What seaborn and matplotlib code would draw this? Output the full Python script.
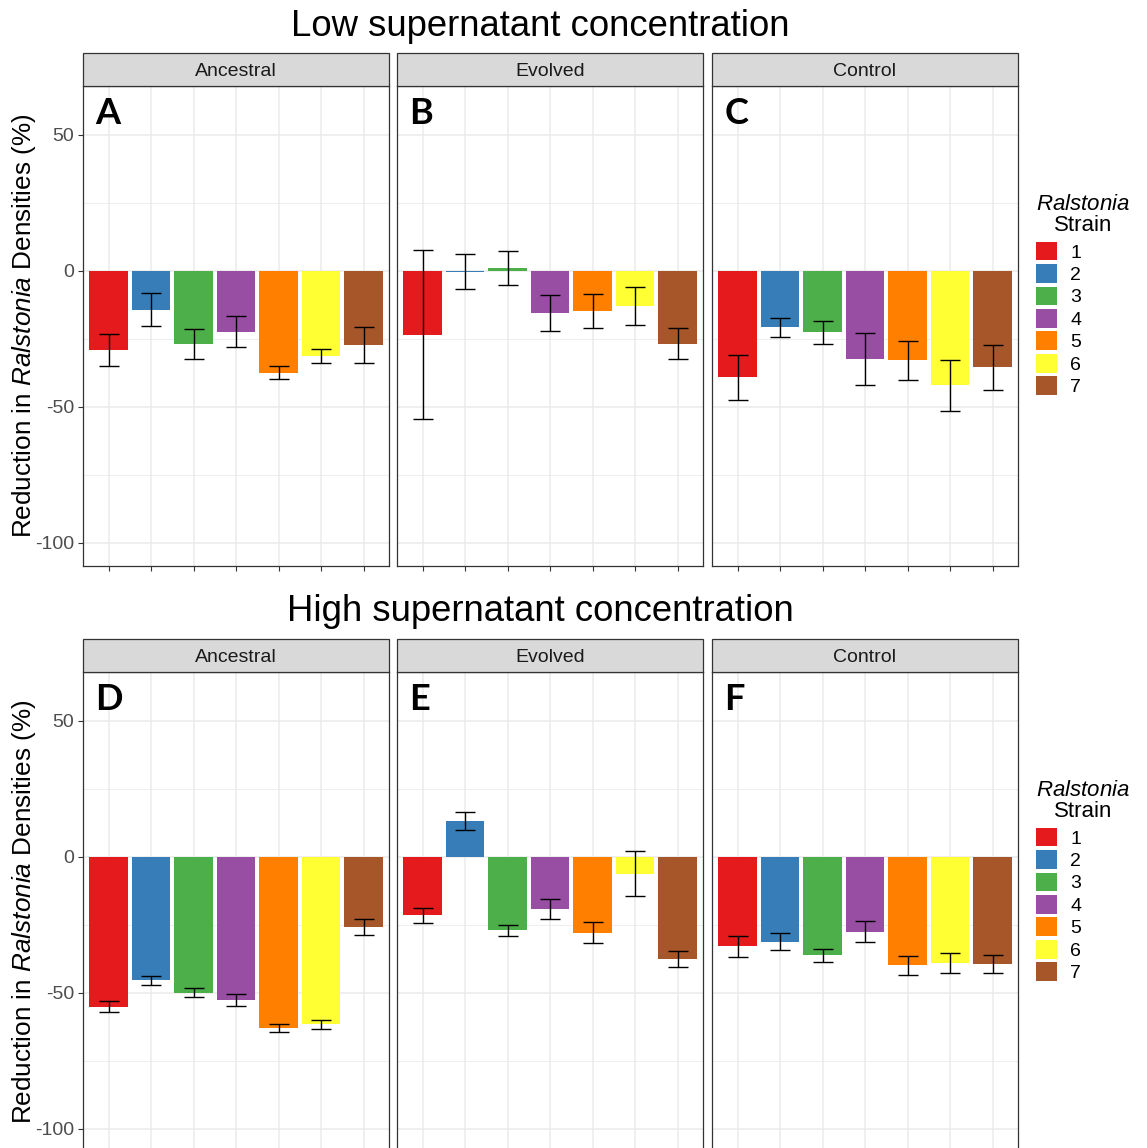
import numpy as np
import pandas as pd
import matplotlib
matplotlib.use("Agg")
import matplotlib.pyplot as plt
from matplotlib.patches import Rectangle, Patch
import seaborn as sns

# ---- data -------------------------------------------------------------
strains = ["1", "2", "3", "4", "5", "6", "7"]
treatments = ["Ancestral", "Evolved", "Control"]
row_titles = ["Low supernatant concentration", "High supernatant concentration"]
panel_letters = [["A", "B", "C"], ["D", "E", "F"]]
strain_colors = ["#E41A1C", "#377EB8", "#4DAF4A", "#984EA3",
                 "#FF7F00", "#FFFF33", "#A65628"]

# low supernatant concentration: mean reduction (%) and standard error
low_ancestral_mean = [-29.1, -14.2, -26.8, -22.4, -37.4, -31.2, -27.1]
low_ancestral_se = [5.95, 6.0, 5.6, 5.65, 2.35, 2.5, 6.65]
low_evolved_mean = [-23.4, -0.3, 1.0, -15.5, -14.6, -12.9, -26.8]
low_evolved_se = [31.0, 6.4, 6.15, 6.7, 6.25, 7.05, 5.65]
low_control_mean = [-39.1, -20.7, -22.6, -32.5, -32.9, -42.1, -35.5]
low_control_se = [8.3, 3.55, 4.35, 9.6, 7.05, 9.35, 8.15]

# high supernatant concentration
high_ancestral_mean = [-55.0, -45.4, -50.0, -52.5, -62.8, -61.5, -25.7]
high_ancestral_se = [2.0, 1.6, 1.65, 2.2, 1.4, 1.65, 2.85]
high_evolved_mean = [-21.5, 13.2, -27.0, -19.2, -27.8, -6.1, -37.5]
high_evolved_se = [2.9, 3.15, 2.1, 3.55, 3.9, 8.35, 2.95]
high_control_mean = [-32.9, -31.1, -36.2, -27.5, -39.9, -39.0, -39.4]
high_control_se = [3.8, 3.1, 2.4, 3.9, 3.4, 3.7, 3.3]

means = [[low_ancestral_mean, low_evolved_mean, low_control_mean],
         [high_ancestral_mean, high_evolved_mean, high_control_mean]]
errors = [[low_ancestral_se, low_evolved_se, low_control_se],
          [high_ancestral_se, high_evolved_se, high_control_se]]

# ---- styling ----------------------------------------------------------
plt.rcParams["font.family"] = ["Liberation Sans", "DejaVu Sans"]
plt.rcParams["mathtext.fontset"] = "custom"
plt.rcParams["mathtext.rm"] = "Liberation Sans"
plt.rcParams["mathtext.it"] = "Liberation Sans:italic"
plt.rcParams["axes.unicode_minus"] = False

W, H = 1147, 1148
fig = plt.figure(figsize=(W / 100, H / 100), dpi=100)


def frac_box(x0, y0, w, h):
    """Pixel box (top-left origin) to figure fraction [left, bottom, w, h]."""
    return [x0 / W, 1 - (y0 + h) / H, w / W, h / H]


panel_left = [83, 397, 712]
panel_w, panel_h = 306, 480
strip_h = 33
row_panel_top = [86, 672]
row_title_y = [26, 612]
dark = "#333333"
grid_col = "#EBEBEB"

for r in range(2):
    for c in range(3):
        ax = fig.add_axes(frac_box(panel_left[c], row_panel_top[r], panel_w, panel_h))
        df = pd.DataFrame({"strain": strains, "value": means[r][c]})
        sns.barplot(data=df, x="strain", y="value", hue="strain",
                    palette=strain_colors, order=strains, hue_order=strains,
                    width=0.9, saturation=1, linewidth=0, legend=False, ax=ax)
        ax.errorbar(np.arange(len(strains)), means[r][c], yerr=errors[r][c],
                    fmt="none", ecolor="black", elinewidth=1.0,
                    capsize=7.5, capthick=1.0, zorder=5)
        ax.set_xlim(-0.6, len(strains) - 0.4)
        ax.set_ylim(-108.5, 68)
        ax.set_yticks([-100, -50, 0, 50])
        ax.set_yticks([-75, -25, 25], minor=True)
        ax.set_axisbelow(True)
        ax.grid(which="major", color=grid_col, linewidth=1.1)
        ax.grid(which="minor", axis="y", color=grid_col, linewidth=0.6)
        ax.set_xlabel("")
        ax.set_ylabel("")
        for sp in ax.spines.values():
            sp.set_color(dark)
            sp.set_linewidth(0.9)
        ax.tick_params(axis="x", labelbottom=False, length=3.5,
                       color=dark, width=0.8)
        ax.tick_params(axis="y", which="minor", length=0)
        if c == 0:
            ax.tick_params(axis="y", which="major", labelsize=14,
                           labelcolor="#4D4D4D", length=3.5, width=0.8,
                           color=dark, pad=3)
        else:
            ax.tick_params(axis="y", which="major", labelleft=False, length=0)
        ax.text(0.041, 0.977, panel_letters[r][c], transform=ax.transAxes,
                fontsize=26, fontweight="bold", family=["Lato", "DejaVu Sans"],
                ha="left", va="top")

        # facet strip
        sx, sy, sw, sh = frac_box(panel_left[c], row_panel_top[r] - strip_h,
                                  panel_w, strip_h)
        fig.add_artist(Rectangle((sx, sy), sw, sh, transform=fig.transFigure,
                                 facecolor="#D9D9D9", edgecolor=dark,
                                 linewidth=0.9))
        fig.text(sx + sw / 2, sy + sh / 2 - 1.5 / H, treatments[c], ha="center",
                 va="center", fontsize=14, color="#1A1A1A")

    fig.text(540 / W, 1 - row_title_y[r] / H, row_titles[r], ha="center",
             va="center", fontsize=26.3)
    fig.text(24 / W, 1 - (row_panel_top[r] + panel_h / 2) / H,
             r"Reduction in $\it{Ralstonia}$ Densities (%)", rotation=90,
             ha="center", va="center", fontsize=18.8)

    handles = [Patch(facecolor=col, edgecolor="none") for col in strain_colors]
    leg = fig.legend(handles, strains, title="$\\it{Ralstonia}$\nStrain",
                     loc="upper left",
                     bbox_to_anchor=(1036 / W, 1 - (row_panel_top[r] + 108) / H),
                     frameon=False, fontsize=14, title_fontsize=16,
                     handlelength=1.1, handleheight=1.1, handletextpad=0.65,
                     labelspacing=0.13, borderpad=0, borderaxespad=0,
                     alignment="left")
    leg.get_title().set_multialignment("center")
    leg.get_title().set_linespacing(1.0)
    leg._legend_box.sep = 4

fig.savefig("out.png", dpi=100)
